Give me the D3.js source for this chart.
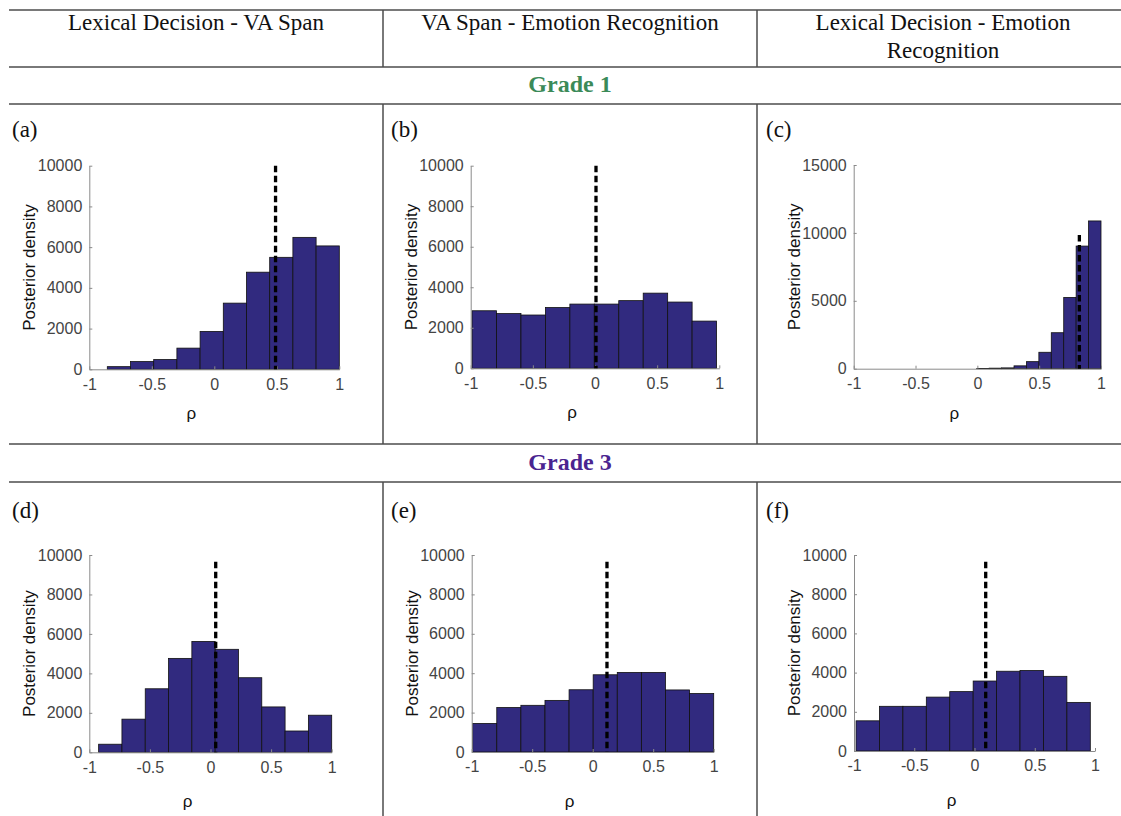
<!DOCTYPE html>
<html>
<head>
<meta charset="utf-8">
<script src="https://cdn.jsdelivr.net/npm/d3@7"></script>
<style>
  html, body { margin: 0; padding: 0; background: #fff; }
  svg { display: block; }
</style>
</head>
<body>
<svg id="chart" width="1121" height="816"></svg>
<script>
// ---------------- DATA ----------------
const columnTitles = [["Lexical Decision - VA Span"], ["VA Span - Emotion Recognition"], ["Lexical Decision - Emotion", "Recognition"]];
const gradeLabels = ["Grade 1", "Grade 3"];
const panelLetters = ["(a)", "(b)", "(c)", "(d)", "(e)", "(f)"];
const rhoTicks = [-1, -0.5, 0, 0.5, 1];
const densityTicks10k = [0, 2000, 4000, 6000, 8000, 10000];
const densityTicks15k = [0, 5000, 10000, 15000];

// histogram counts (10 equal bins between binRange limits)
const countsA = [130, 380, 480, 1040, 1860, 3250, 4770, 5500, 6480, 6060];
const countsB = [2840, 2700, 2630, 3000, 3170, 3170, 3340, 3710, 3270, 2330];
const countsC = [20, 40, 60, 210, 520, 1210, 2650, 5250, 9030, 10880];
const countsD = [410, 1680, 3220, 4760, 5620, 5220, 3780, 2300, 1080, 1880];
const countsE = [1450, 2260, 2370, 2620, 3160, 3920, 4040, 4040, 3150, 2970];
const countsF = [1540, 2280, 2280, 2750, 3030, 3570, 4070, 4110, 3810, 2480];

const binRangeA = [-0.856, 1.0];
const binRangeB = [-0.989, 0.978];
const binRangeC = [-0.005, 1.0];
const binRangeD = [-0.923, 1.0];
const binRangeE = [-0.992, 1.0];
const binRangeF = [-0.983, 0.961];

// dashed marker (x position of rho, top of dashed line)
const markerRho = [0.49, 0.008, 0.825, 0.043, 0.118, 0.093];
const markerTop = [10000, 10000, 9850, 9660, 9660, 9660];
const densityMax = [10000, 10000, 15000, 10000, 10000, 10000];

// ---------------- LAYOUT ----------------
const W = 1121, H = 816;
const svg = d3.select("#chart");
const lineColor = "#4d4d4d";
const serif = "'Liberation Serif', 'DejaVu Serif', serif";
const sans = "'Liberation Sans', Arial, Helvetica, sans-serif";

const hLines = [10, 67, 104, 444, 482];
const vX = [383, 757];
const tableLeft = 9, tableRight = W;

// horizontal rules
svg.selectAll("line.h").data(hLines).join("line")
  .attr("x1", tableLeft).attr("x2", tableRight)
  .attr("y1", d => d).attr("y2", d => d)
  .attr("stroke", lineColor).attr("stroke-width", 1.5);

// vertical rules: header, row 1, row 2
const vSegs = [[10, 67], [104, 444], [482, H]];
vSegs.forEach(s => {
  svg.selectAll(null).data(vX).join("line")
    .attr("x1", d => d).attr("x2", d => d)
    .attr("y1", s[0]).attr("y2", s[1])
    .attr("stroke", lineColor).attr("stroke-width", 1.5);
});

// column headers
const colCenters = [196, 570, 943];
columnTitles.forEach((lines, i) => {
  const t = svg.append("text")
    .attr("text-anchor", "middle")
    .attr("font-family", serif).attr("font-size", 23).attr("fill", "#111");
  lines.forEach((ln, j) => {
    t.append("tspan").attr("x", colCenters[i]).attr("y", 30 + j * 28).text(ln);
  });
});

// grade labels
const gradeColors = ["#3b8a58", "#4a2490"];
const gradeY = [92, 470];
gradeLabels.forEach((g, i) => {
  svg.append("text").attr("x", 570).attr("y", gradeY[i])
    .attr("text-anchor", "middle").attr("font-family", serif)
    .attr("font-weight", "bold").attr("font-size", 24)
    .attr("fill", gradeColors[i]).text(g);
});

// panels
const counts = [countsA, countsB, countsC, countsD, countsE, countsF];
const ranges = [binRangeA, binRangeB, binRangeC, binRangeD, binRangeE, binRangeF];
const plotBoxes = [
  { x0: 89.3, x1: 339.3, yTop: 165.7, y0: 369.3 },
  { x0: 470.7, x1: 719.3, yTop: 165.7, y0: 368.3 },
  { x0: 853.7, x1: 1101, yTop: 165.0, y0: 368.7 },
  { x0: 89.3, x1: 331.7, yTop: 555.0, y0: 752.3 },
  { x0: 471.7, x1: 713.7, yTop: 555.0, y0: 752.0 },
  { x0: 854.0, x1: 1095, yTop: 555.0, y0: 751.0 }
];
const letterPos = [[12, 137], [391, 137], [766, 137], [12, 518], [391, 518], [766, 518]];
const barFill = "#312a7f";

plotBoxes.forEach((b, i) => {
  const x = d3.scaleLinear().domain([-1, 1]).range([b.x0, b.x1]);
  const y = d3.scaleLinear().domain([0, densityMax[i]]).range([b.y0, b.yTop]);
  const g = svg.append("g");

  // letter
  svg.append("text").attr("x", letterPos[i][0]).attr("y", letterPos[i][1])
    .attr("font-family", serif).attr("font-size", 23).attr("fill", "#111")
    .text(panelLetters[i]);

  // bars
  const c = counts[i], r = ranges[i];
  const bw = (r[1] - r[0]) / c.length;
  const bins = c.map((v, k) => ({ lo: r[0] + k * bw, hi: r[0] + (k + 1) * bw, v }));
  g.selectAll("rect").data(bins).join("rect")
    .attr("x", d => x(d.lo)).attr("width", d => x(d.hi) - x(d.lo))
    .attr("y", d => y(d.v)).attr("height", d => y(0) - y(d.v))
    .attr("fill", barFill).attr("stroke", "#111").attr("stroke-width", 0.8);

  // axes
  const ticksY = densityMax[i] === 15000 ? densityTicks15k : densityTicks10k;
  const ax = g.append("g").attr("transform", `translate(0,${b.y0})`)
    .call(d3.axisBottom(x).tickValues(rhoTicks).tickFormat(d3.format("")).tickSizeInner(-3).tickSizeOuter(0).tickPadding(9));
  const ay = g.append("g").attr("transform", `translate(${b.x0},0)`)
    .call(d3.axisLeft(y).tickValues(ticksY).tickFormat(d3.format("d")).tickSizeInner(-3).tickSizeOuter(0).tickPadding(7));
  [ax, ay].forEach(a => {
    a.select(".domain").attr("stroke", "#8a8a8a").attr("stroke-width", 1);
    a.selectAll(".tick line").attr("stroke", "#8a8a8a");
    a.selectAll(".tick text").attr("font-family", sans).attr("font-size", 16).attr("fill", "#444");
  });
  ax.selectAll(".tick text").text(d => d === 0 ? "0" : String(d));

  // dashed marker
  g.append("line")
    .attr("x1", x(markerRho[i])).attr("x2", x(markerRho[i]))
    .attr("y1", y(markerTop[i])).attr("y2", y(0))
    .attr("stroke", "#000").attr("stroke-width", 3.3).attr("stroke-dasharray", "6.5,3.5");

  // axis labels
  svg.append("text")
    .attr("transform", `translate(${b.x0 - 60},${(b.y0 + b.yTop) / 2}) rotate(-90)`)
    .attr("text-anchor", "middle").attr("dy", "0.35em")
    .attr("font-family", sans).attr("font-size", 17).attr("fill", "#111")
    .text("Posterior density");
  svg.append("text")
    .attr("x", (b.x0 + b.x1) / 2 - 23).attr("y", b.y0 + (i < 3 ? 44 : 49))
    .attr("text-anchor", "middle").attr("dy", "0.35em")
    .attr("font-family", sans).attr("font-size", 17).attr("fill", "#111")
    .text("ρ");
});
</script>
</body>
</html>
